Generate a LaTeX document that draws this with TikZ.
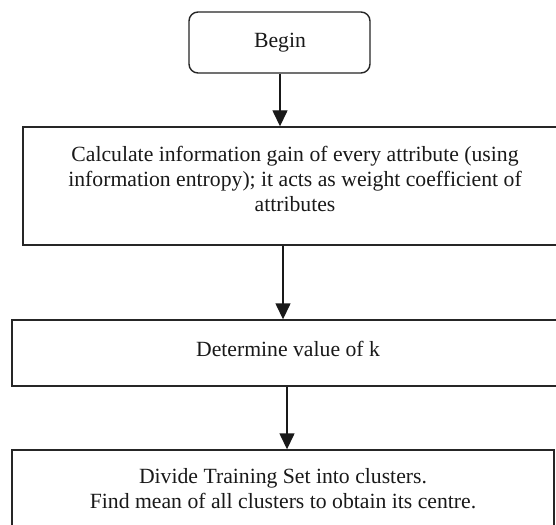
\documentclass[tikz,border=0pt]{standalone}
\usepackage{fontspec}
\setmainfont{Liberation Serif}
\usetikzlibrary{arrows.meta}
\begin{document}
\begin{tikzpicture}[x=1pt,y=-1pt,
  boxstyle/.style={draw=black!85,line width=1.4pt,inner sep=0pt,fill=white},
  txt/.style={inner sep=0pt,align=center,text=black!90,font=\fontsize{21.7}{25}\selectfont},
  arr/.style={draw=black!90,line width=1.4pt,-{Triangle[width=15pt,length=16pt]}}]
\useasboundingbox[fill=white] (0,0) rectangle (556,524);
\node[boxstyle,rounded corners=9pt,minimum width=181pt,minimum height=61pt] (begin) at (279.5,42.5) {};
\node[boxstyle,minimum width=544pt,minimum height=118pt] (calc) at (295,186) {};
\node[boxstyle,minimum width=552pt,minimum height=66pt] (detk) at (288,353) {};
\node[boxstyle,minimum width=542pt,minimum height=110pt] (divide) at (283,505) {};
\node[txt,anchor=base] (begintext) at (280,48) {Begin};
\node[txt] (calctext) at (295,178.5) {Calculate information gain of every attribute (using\\information entropy); it acts as weight coefficient of\\attributes};
\node[txt,anchor=base] (detktext) at (288,356) {Determine value of k};
\node[txt] (dividetext) at (283,489) {Divide Training Set into clusters.\\Find mean of all clusters to obtain its centre.};
\draw[arr] (280,0 |- begin.south) -- (280,0 |- calc.north);
\draw[arr] (283,0 |- calc.south) -- (283,0 |- detk.north);
\draw[arr] (287,0 |- detk.south) -- (287,0 |- divide.north);
\end{tikzpicture}
\end{document}
